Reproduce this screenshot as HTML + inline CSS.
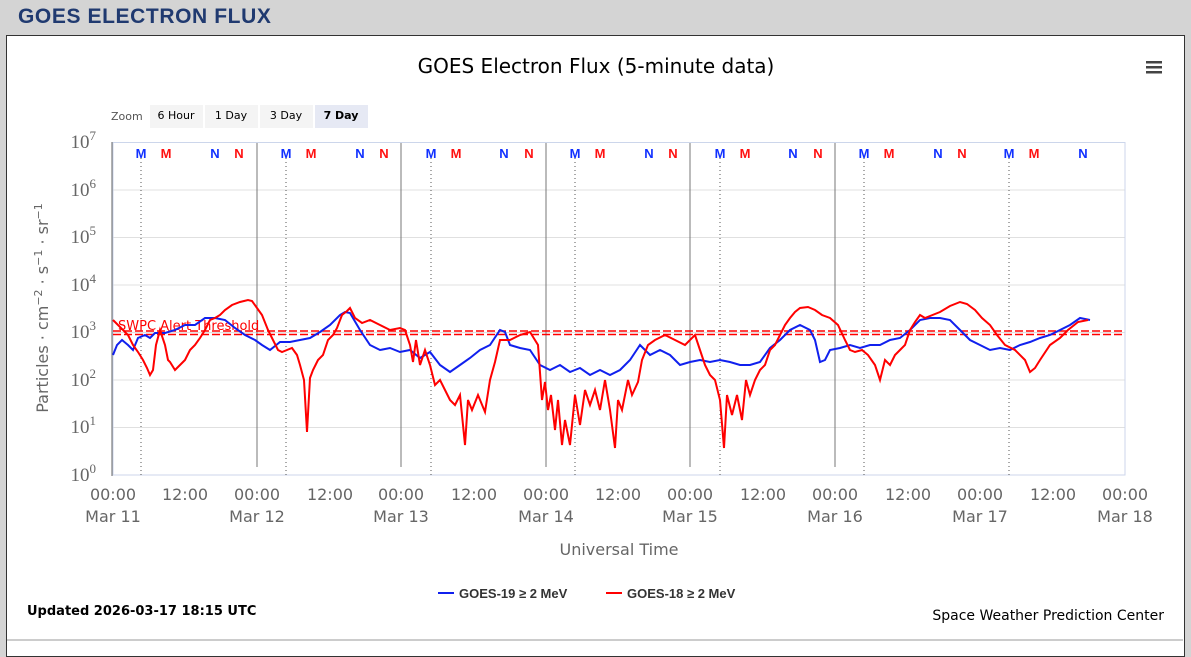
<!DOCTYPE html>
<html><head><style>
body{margin:0;width:1191px;height:647px;background:#d4d4d4;font-family:"Liberation Sans",sans-serif;overflow:hidden;position:relative}
.hdr{position:absolute;left:18px;top:5px;font-size:21px;font-weight:bold;color:#203a70;letter-spacing:0.6px}
.box{position:absolute;left:6px;top:35px;width:1177px;height:620px;background:#fff;border:1px solid #333}
</style></head><body>
<div class="hdr">GOES ELECTRON FLUX</div>
<div class="box"></div>
<svg width="1191" height="647" style="position:absolute;left:0;top:0" font-family="DejaVu Sans, sans-serif">
<text x="596" y="73" font-size="20" text-anchor="middle" fill="#000">GOES Electron Flux (5-minute data)</text>
<g fill="#444"><rect x="1146" y="61" width="16" height="2.5"/><rect x="1146" y="66" width="16" height="2.5"/><rect x="1146" y="71" width="16" height="2.5"/></g>
<text x="111" y="120" font-size="11" fill="#555">Zoom</text>
<rect x="150" y="105" width="53" height="23" fill="#f4f4f4"/><text x="176" y="119" font-size="11" text-anchor="middle">6 Hour</text>
<rect x="205" y="105" width="53" height="23" fill="#f4f4f4"/><text x="231" y="119" font-size="11" text-anchor="middle">1 Day</text>
<rect x="260" y="105" width="53" height="23" fill="#f4f4f4"/><text x="286" y="119" font-size="11" text-anchor="middle">3 Day</text>
<rect x="315" y="105" width="53" height="23" fill="#e6e9f4"/><text x="341" y="119" font-size="11" text-anchor="middle" font-weight="bold">7 Day</text>
<g stroke="#e0e0e0"><line x1="113" x2="1125" y1="190" y2="190"/><line x1="113" x2="1125" y1="237.5" y2="237.5"/><line x1="113" x2="1125" y1="285" y2="285"/><line x1="113" x2="1125" y1="332.5" y2="332.5"/><line x1="113" x2="1125" y1="380" y2="380"/><line x1="113" x2="1125" y1="427.5" y2="427.5"/></g>
<rect x="113" y="142.5" width="1012" height="332.5" fill="none" stroke="#ccd6eb"/>
<line x1="112" x2="112" y1="142" y2="476" stroke="#666"/>
<g stroke="#777"><line x1="257" x2="257" y1="143" y2="467"/><line x1="401" x2="401" y1="143" y2="467"/><line x1="546" x2="546" y1="143" y2="467"/><line x1="690" x2="690" y1="143" y2="467"/><line x1="835" x2="835" y1="143" y2="467"/></g>
<g stroke="#555" stroke-dasharray="1,3"><line x1="141" x2="141" y1="158" y2="475"/><line x1="286" x2="286" y1="158" y2="475"/><line x1="431" x2="431" y1="158" y2="475"/><line x1="575" x2="575" y1="158" y2="475"/><line x1="720" x2="720" y1="158" y2="475"/><line x1="864" x2="864" y1="158" y2="475"/><line x1="1009" x2="1009" y1="158" y2="475"/></g>
<g font-size="13" font-weight="bold" text-anchor="middle" font-family="Liberation Sans, sans-serif">
<g fill="#1030ff"><text x="141" y="158">M</text><text x="215" y="158">N</text><text x="286" y="158">M</text><text x="360" y="158">N</text><text x="431" y="158">M</text><text x="504" y="158">N</text><text x="575" y="158">M</text><text x="649" y="158">N</text><text x="720" y="158">M</text><text x="793" y="158">N</text><text x="864" y="158">M</text><text x="938" y="158">N</text><text x="1009" y="158">M</text><text x="1083" y="158">N</text></g>
<g fill="#ff1010"><text x="166" y="158">M</text><text x="239" y="158">N</text><text x="311" y="158">M</text><text x="384" y="158">N</text><text x="456" y="158">M</text><text x="529" y="158">N</text><text x="600" y="158">M</text><text x="673" y="158">N</text><text x="745" y="158">M</text><text x="818" y="158">N</text><text x="889" y="158">M</text><text x="962" y="158">N</text><text x="1034" y="158">M</text></g></g>
<g font-family="Liberation Serif, serif" font-size="19" fill="#666" text-anchor="end">
<text x="96" y="148">10<tspan font-size="13" dy="-8">7</tspan></text>
<text x="96" y="196">10<tspan font-size="13" dy="-8">6</tspan></text>
<text x="96" y="243">10<tspan font-size="13" dy="-8">5</tspan></text>
<text x="96" y="291">10<tspan font-size="13" dy="-8">4</tspan></text>
<text x="96" y="338">10<tspan font-size="13" dy="-8">3</tspan></text>
<text x="96" y="386">10<tspan font-size="13" dy="-8">2</tspan></text>
<text x="96" y="433">10<tspan font-size="13" dy="-8">1</tspan></text>
<text x="96" y="481">10<tspan font-size="13" dy="-8">0</tspan></text>
</g>
<text transform="translate(48,308) rotate(-90)" font-size="16" fill="#666" text-anchor="middle">Particles · cm<tspan font-size="11" dy="-6">−2</tspan><tspan dy="6"> · s</tspan><tspan font-size="11" dy="-6">−1</tspan><tspan dy="6"> · sr</tspan><tspan font-size="11" dy="-6">−1</tspan></text>
<g font-size="16" fill="#666" text-anchor="middle">
<text x="113" y="500">00:00</text><text x="113" y="522">Mar 11</text>
<text x="185" y="500">12:00</text>
<text x="257" y="500">00:00</text><text x="257" y="522">Mar 12</text>
<text x="330" y="500">12:00</text>
<text x="401" y="500">00:00</text><text x="401" y="522">Mar 13</text>
<text x="474" y="500">12:00</text>
<text x="546" y="500">00:00</text><text x="546" y="522">Mar 14</text>
<text x="618" y="500">12:00</text>
<text x="690" y="500">00:00</text><text x="690" y="522">Mar 15</text>
<text x="763" y="500">12:00</text>
<text x="835" y="500">00:00</text><text x="835" y="522">Mar 16</text>
<text x="908" y="500">12:00</text>
<text x="980" y="500">00:00</text><text x="980" y="522">Mar 17</text>
<text x="1053" y="500">12:00</text>
<text x="1125" y="500">00:00</text><text x="1125" y="522">Mar 18</text>
<text x="619" y="555">Universal Time</text></g>
<line x1="113" x2="1125" y1="331" y2="331" stroke="#f00" stroke-width="1.5" stroke-dasharray="8,3"/>
<line x1="113" x2="1125" y1="334.5" y2="334.5" stroke="#f00" stroke-width="1.5" stroke-dasharray="8,3"/>
<text x="118" y="330" font-size="13" fill="#f00">SWPC Alert Threshold</text>
<polyline fill="none" stroke="#1020ee" stroke-width="2" points="113,355 117,345 122,340 128,345 133,350 138,338 145,335 150,338 155,333 165,333 175,330 185,325 195,325 205,318 215,318 225,320 235,328 245,335 255,340 262,345 270,350 280,342 290,342 300,340 310,338 320,332 330,325 340,315 345,312 350,313 360,330 370,345 380,350 390,348 400,352 410,350 420,358 430,352 440,365 450,372 460,365 470,358 480,350 490,345 500,330 505,332 510,345 520,348 530,350 540,365 550,370 560,365 570,372 580,368 590,375 600,370 610,375 620,370 630,360 640,345 650,355 660,350 670,355 680,365 690,362 700,360 710,362 720,360 730,362 740,365 750,365 760,362 770,348 780,340 790,330 800,325 810,330 815,340 820,362 825,360 830,350 840,348 850,345 860,348 870,345 880,345 890,340 900,338 910,330 920,320 930,318 940,318 950,320 960,330 970,340 980,345 990,350 1000,348 1010,350 1020,345 1030,342 1040,338 1050,335 1060,330 1070,325 1080,318 1090,320"/>
<polyline fill="none" stroke="#f00" stroke-width="2" points="113,320 118,325 123,330 128,335 133,345 138,352 143,360 147,368 150,375 153,370 156,345 160,330 165,345 168,360 170,362 175,370 180,365 185,360 190,350 195,345 200,338 205,330 210,320 215,318 220,315 225,310 232,305 240,302 248,300 252,301 257,308 262,315 268,330 273,340 278,350 282,352 287,350 292,348 297,355 300,365 304,380 307,432 310,378 313,370 318,360 323,355 328,340 333,335 337,328 342,315 347,311 350,308 355,318 362,323 370,320 380,325 390,330 400,328 405,330 410,345 413,362 416,340 420,365 425,350 430,365 435,385 440,380 445,390 450,400 455,405 460,395 465,445 468,400 472,410 478,395 485,412 490,380 495,362 500,340 510,340 520,335 530,332 538,345 542,400 545,382 548,410 551,395 555,430 558,400 562,445 565,420 570,445 575,395 580,425 585,390 590,405 595,390 600,410 605,380 610,410 615,448 618,400 622,410 628,380 632,395 638,382 642,360 648,345 655,340 665,335 675,340 685,345 695,335 700,350 705,365 710,375 715,380 720,400 724,448 727,395 732,415 737,395 742,420 746,380 750,395 755,380 760,370 765,365 770,350 775,345 780,335 785,325 790,318 795,312 800,308 808,307 815,310 822,315 830,318 838,325 845,340 850,350 855,352 862,350 868,355 875,365 880,380 885,360 890,365 895,355 900,350 905,345 910,330 915,322 920,315 925,318 930,316 940,312 950,306 960,302 967,304 975,310 982,318 990,325 997,335 1005,345 1015,350 1025,360 1030,372 1035,368 1040,360 1050,345 1060,338 1068,330 1078,322 1088,320"/>
<line x1="438" x2="454" y1="593" y2="593" stroke="#1020ee" stroke-width="2"/>
<text x="459" y="598" font-size="13" font-weight="bold" fill="#333" font-family="Liberation Sans, sans-serif">GOES-19 ≥ 2 MeV</text>
<line x1="606" x2="622" y1="593" y2="593" stroke="#f00" stroke-width="2"/>
<text x="627" y="598" font-size="13" font-weight="bold" fill="#333" font-family="Liberation Sans, sans-serif">GOES-18 ≥ 2 MeV</text>
<text x="27" y="615" font-size="13" font-weight="bold" fill="#000">Updated 2026-03-17 18:15 UTC</text>
<text x="1164" y="620" font-size="14" fill="#000" text-anchor="end">Space Weather Prediction Center</text>
<line x1="7" x2="1183" y1="640" y2="640" stroke="#999"/>
</svg>
</body></html>
